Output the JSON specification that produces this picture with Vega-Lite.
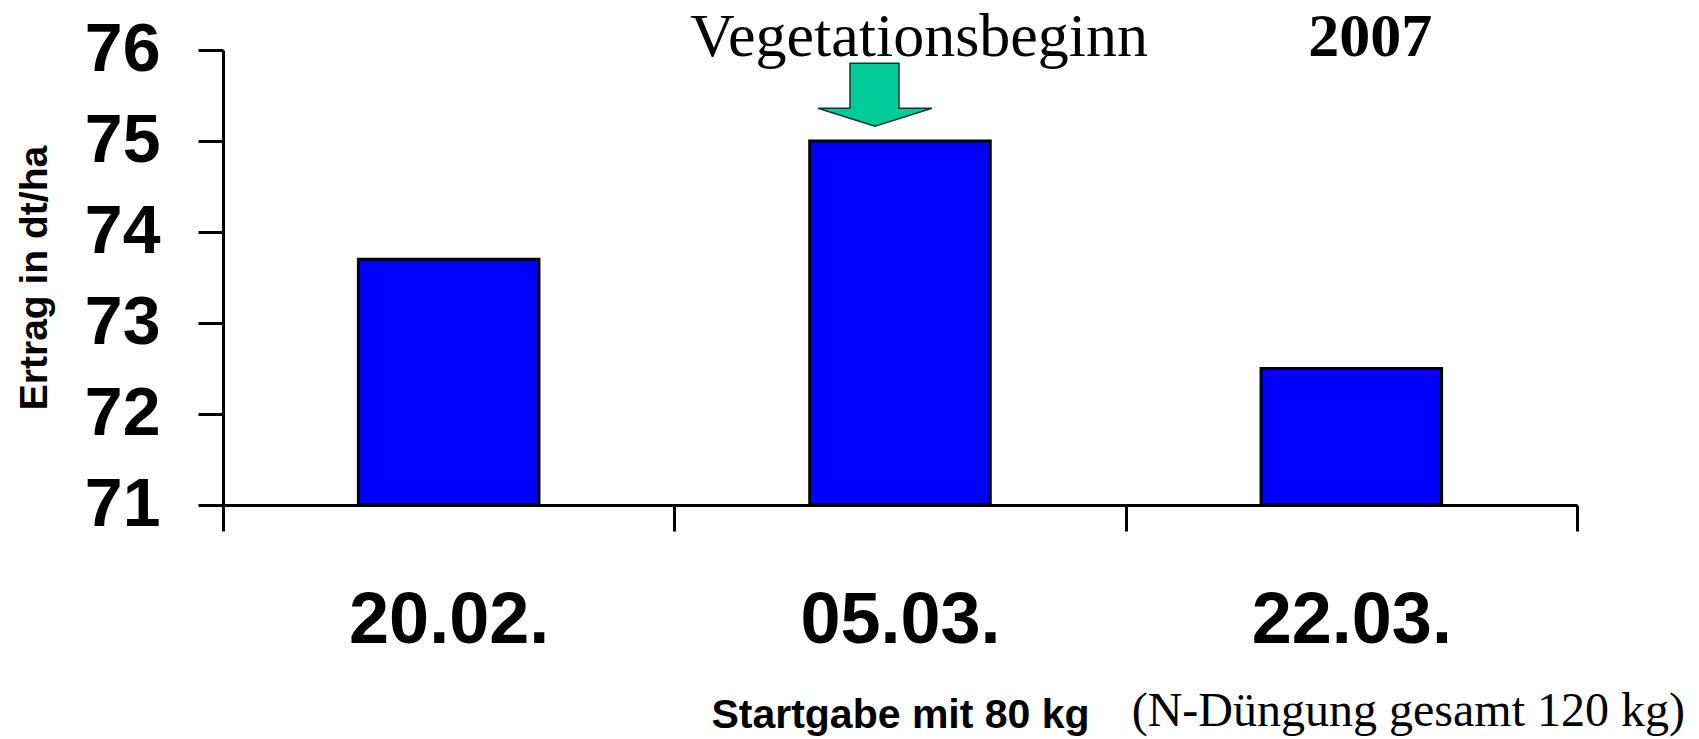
{
  "$schema": "https://vega.github.io/schema/vega-lite/v6.json",
  "width": 1354,
  "height": 455,
  "autosize": {"type": "none"},
  "padding": {"left": 223, "top": 50, "right": 122, "bottom": 234},
  "background": "white",
  "config": {"view": {"stroke": null}},
  "datasets": {
    "bars": [
      {"Datum": "20.02.", "Ertrag": 73.7},
      {"Datum": "05.03.", "Ertrag": 75.0},
      {"Datum": "22.03.", "Ertrag": 72.5}
    ],
    "arrow": [{"Datum": "05.03.", "Ertrag": 75.5}],
    "notes": [
      {"Datum": "05.03.", "Ertrag": 76, "text": "Vegetationsbeginn"}
    ],
    "year": [
      {"Datum": "22.03.", "Ertrag": 76, "text": "2007"}
    ],
    "foot": [
      {"Datum": "22.03.", "Ertrag": 71, "text": "(N-Düngung gesamt 120 kg)"}
    ]
  },
  "layer": [
    {
      "data": {"name": "bars"},
      "mark": {"type": "bar", "color": "#0000FF", "stroke": "black", "strokeWidth": 3, "width": {"band": 0.4}},
      "encoding": {
        "x": {
          "field": "Datum", "type": "nominal", "sort": null,
          "scale": {"paddingInner": 0, "paddingOuter": 0},
          "axis": {
            "orient": "bottom",
            "labelAngle": 0,
            "tickBand": "extent",
            "tickSize": 26,
            "tickWidth": 3,
            "tickColor": "black",
            "domainColor": "black",
            "domainWidth": 3,
            "labelFont": "Liberation Sans",
            "labelFontWeight": "bold",
            "labelFontSize": 72,
            "labelColor": "black",
            "labelPadding": 54,
            "labelLimit": 0,
            "title": "Startgabe mit 80 kg",
            "titleFont": "Liberation Sans",
            "titleFontWeight": "bold",
            "titleFontSize": 41,
            "titleColor": "black",
            "titleBaseline": "alphabetic",
            "titleY": 222,
            "zindex": 1
          }
        },
        "y": {
          "field": "Ertrag", "type": "quantitative",
          "scale": {"domain": [71, 76], "zero": false, "nice": false},
          "axis": {
            "values": [71, 72, 73, 74, 75, 76],
            "format": "d",
            "grid": false,
            "tickSize": 25,
            "tickWidth": 3,
            "tickColor": "black",
            "domainColor": "black",
            "domainWidth": 3,
            "labelFont": "Liberation Sans",
            "labelFontWeight": "bold",
            "labelFontSize": 68,
            "labelColor": "black",
            "labelPadding": 38,
            "labelBaseline": "middle",
            "labelFlush": false,
            "title": "Ertrag in dt/ha",
            "titleFont": "Liberation Sans",
            "titleFontWeight": "bold",
            "titleFontSize": 39,
            "titleColor": "black",
            "titlePadding": 30,
            "zindex": 1
          }
        },
        "y2": {"datum": 71}
      }
    },
    {
      "data": {"name": "arrow"},
      "mark": {
        "type": "point",
        "filled": true,
        "fill": "#00CC99",
        "fillOpacity": 1,
        "stroke": "#0b3b2c",
        "strokeWidth": 1.5,
        "size": 12996,
        "shape": "M-0.877,-0.567 L-0.018,-0.567 L-0.018,0.223 L0.561,0.223 L-0.439,0.539 L-1.439,0.223 L-0.877,0.223 Z"
      },
      "encoding": {
        "x": {"field": "Datum", "type": "nominal", "sort": null},
        "y": {"field": "Ertrag", "type": "quantitative"}
      }
    },
    {
      "data": {"name": "notes"},
      "mark": {"type": "text", "font": "Liberation Serif", "fontSize": 62, "color": "black", "baseline": "alphabetic", "align": "center", "dx": 19, "dy": 6},
      "encoding": {
        "x": {"field": "Datum", "type": "nominal", "sort": null},
        "y": {"field": "Ertrag", "type": "quantitative"},
        "text": {"field": "text"}
      }
    },
    {
      "data": {"name": "year"},
      "mark": {"type": "text", "font": "Liberation Serif", "fontSize": 62, "fontWeight": "bold", "color": "black", "baseline": "alphabetic", "align": "center", "dx": 19, "dy": 6},
      "encoding": {
        "x": {"field": "Datum", "type": "nominal", "sort": null},
        "y": {"field": "Ertrag", "type": "quantitative"},
        "text": {"field": "text"}
      }
    },
    {
      "data": {"name": "foot"},
      "mark": {"type": "text", "font": "Liberation Serif", "fontSize": 48, "color": "black", "baseline": "alphabetic", "align": "center", "dx": 57, "dy": 221},
      "encoding": {
        "x": {"field": "Datum", "type": "nominal", "sort": null},
        "y": {"field": "Ertrag", "type": "quantitative"},
        "text": {"field": "text"}
      }
    }
  ]
}
